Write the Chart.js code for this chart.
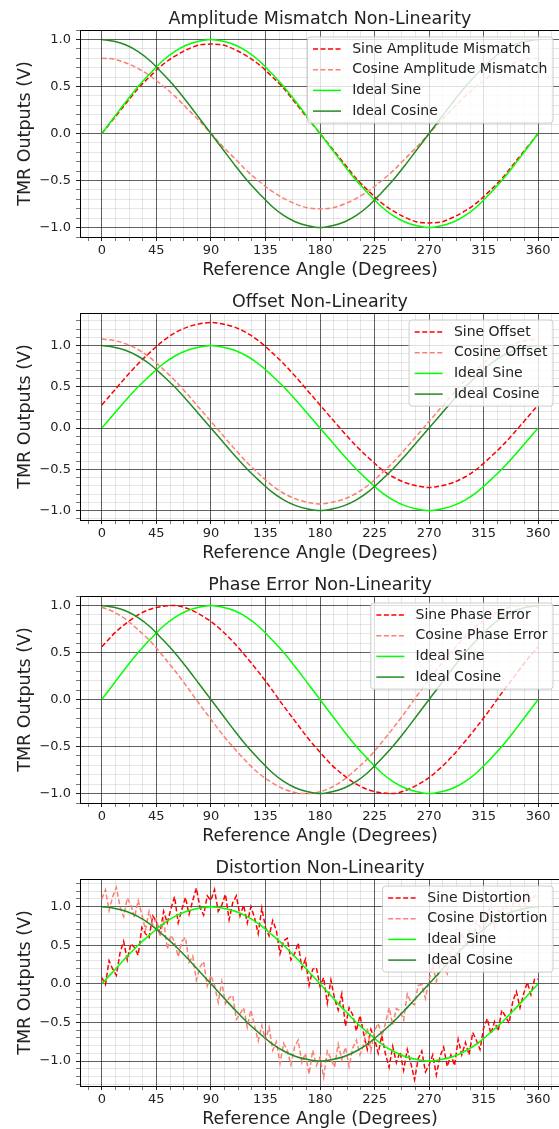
<!DOCTYPE html>
<html>
<head>
<meta charset="utf-8">
<script src="https://cdn.jsdelivr.net/npm/chart.js@4.4.1/dist/chart.umd.min.js"></script>
<style>
html, body { margin: 0; padding: 0; background: #fff; overflow: hidden; width: 559px; height: 1129px; }
.plot { position: absolute; left: 0; }
</style>
</head>
<body>
<canvas id="amp" class="plot" style="top:0px" width="600" height="283"></canvas>
<canvas id="off" class="plot" style="top:283px" width="600" height="283"></canvas>
<canvas id="phase" class="plot" style="top:566px" width="600" height="283"></canvas>
<canvas id="dist" class="plot" style="top:849px" width="600" height="283"></canvas>
<script>
// DATA
const angles = [0,10,20,30,40,50,60,70,80,90,100,110,120,130,140,150,160,170,180,190,200,210,220,230,240,250,260,270,280,290,300,310,320,330,340,350,360];
const angles3 = [0,3,6,9,12,15,18,21,24,27,30,33,36,39,42,45,48,51,54,57,60,63,66,69,72,75,78,81,84,87,90,93,96,99,102,105,108,111,114,117,120,123,126,129,132,135,138,141,144,147,150,153,156,159,162,165,168,171,174,177,180,183,186,189,192,195,198,201,204,207,210,213,216,219,222,225,228,231,234,237,240,243,246,249,252,255,258,261,264,267,270,273,276,279,282,285,288,291,294,297,300,303,306,309,312,315,318,321,324,327,330,333,336,339,342,345,348,351,354,357,360];
const xTickLabels = [0,45,90,135,180,225,270,315,360];
const yTickLabels = [-1.0,-0.5,0.0,0.5,1.0];

const idealSin = [0.00,0.17,0.34,0.50,0.64,0.77,0.87,0.94,0.98,1.00,0.98,0.94,0.87,0.77,0.64,0.50,0.34,0.17,0.00,-0.17,-0.34,-0.50,-0.64,-0.77,-0.87,-0.94,-0.98,-1.00,-0.98,-0.94,-0.87,-0.77,-0.64,-0.50,-0.34,-0.17,0.00];
const idealCos = [1.00,0.98,0.94,0.87,0.77,0.64,0.50,0.34,0.17,0.00,-0.17,-0.34,-0.50,-0.64,-0.77,-0.87,-0.94,-0.98,-1.00,-0.98,-0.94,-0.87,-0.77,-0.64,-0.50,-0.34,-0.17,0.00,0.17,0.34,0.50,0.64,0.77,0.87,0.94,0.98,1.00];

const ampSin = [0.00,0.16,0.32,0.48,0.61,0.73,0.82,0.89,0.94,0.95,0.94,0.89,0.82,0.73,0.61,0.48,0.32,0.16,0.00,-0.16,-0.32,-0.48,-0.61,-0.73,-0.82,-0.89,-0.94,-0.95,-0.94,-0.89,-0.82,-0.73,-0.61,-0.48,-0.32,-0.16,0.00];
const ampCos = [0.80,0.79,0.75,0.69,0.61,0.51,0.40,0.27,0.14,0.00,-0.14,-0.27,-0.40,-0.51,-0.61,-0.69,-0.75,-0.79,-0.80,-0.79,-0.75,-0.69,-0.61,-0.51,-0.40,-0.27,-0.14,0.00,0.14,0.27,0.40,0.51,0.61,0.69,0.75,0.79,0.80];

const offSin = [0.28,0.45,0.62,0.78,0.92,1.05,1.15,1.22,1.26,1.28,1.26,1.22,1.15,1.05,0.92,0.78,0.62,0.45,0.28,0.11,-0.06,-0.22,-0.36,-0.49,-0.59,-0.66,-0.70,-0.72,-0.70,-0.66,-0.59,-0.49,-0.36,-0.22,-0.06,0.11,0.28];
const offCos = [1.08,1.06,1.02,0.95,0.85,0.72,0.58,0.42,0.25,0.08,-0.09,-0.26,-0.42,-0.56,-0.69,-0.79,-0.86,-0.90,-0.92,-0.90,-0.86,-0.79,-0.69,-0.56,-0.42,-0.26,-0.09,0.08,0.25,0.42,0.58,0.72,0.85,0.95,1.02,1.06,1.08];

const phaseSin = [0.56,0.70,0.81,0.90,0.96,0.99,1.00,0.97,0.91,0.83,0.72,0.59,0.44,0.28,0.11,-0.07,-0.24,-0.41,-0.56,-0.70,-0.81,-0.90,-0.96,-0.99,-1.00,-0.97,-0.91,-0.83,-0.72,-0.59,-0.44,-0.28,-0.11,0.07,0.24,0.41,0.56];
const phaseCos = [0.98,0.93,0.85,0.74,0.62,0.47,0.31,0.14,-0.04,-0.21,-0.38,-0.53,-0.67,-0.79,-0.88,-0.95,-0.99,-1.00,-0.98,-0.93,-0.85,-0.74,-0.62,-0.47,-0.31,-0.14,0.04,0.21,0.38,0.53,0.67,0.79,0.88,0.95,0.99,1.00,0.98];

const distSin = [0.08,-0.01,0.30,0.19,0.11,0.40,0.55,0.31,0.52,0.47,
  0.37,0.73,0.65,0.60,0.88,0.81,0.66,0.94,0.79,0.97,
  1.13,0.79,0.96,1.12,0.90,1.08,1.24,0.99,0.89,1.14,
  1.08,1.22,0.94,1.02,1.16,0.83,1.05,1.14,0.88,1.02,
  0.79,1.00,0.86,0.65,0.98,0.73,0.62,0.82,0.69,0.39,
  0.56,0.59,0.31,0.39,0.53,0.20,0.32,-0.02,0.19,0.21,
  -0.03,0.08,-0.25,0.05,-0.19,-0.34,-0.13,-0.55,-0.31,-0.40,
  -0.61,-0.41,-0.64,-0.85,-0.59,-0.71,-0.90,-0.67,-0.91,-1.08,
  -0.81,-1.02,-0.88,-1.12,-0.85,-1.03,-1.24,-0.97,-0.87,-1.14,
  -1.05,-0.92,-1.18,-0.94,-0.82,-1.07,-0.92,-1.06,-0.72,-0.92,
  -0.76,-0.92,-0.63,-0.73,-0.85,-0.57,-0.45,-0.65,-0.49,-0.61,
  -0.34,-0.42,-0.51,-0.23,-0.10,-0.31,-0.13,0.02,-0.14,0.06,
  0.06];
const distCos = [1.10,1.22,0.95,1.13,1.25,1.00,0.87,1.11,1.02,0.86,
  1.08,0.90,0.70,0.94,0.76,0.84,0.61,0.82,0.45,0.63,
  0.55,0.35,0.55,0.60,0.28,0.36,0.05,0.22,0.29,-0.03,
  0.11,-0.02,-0.24,0.03,-0.26,-0.18,-0.15,-0.46,-0.39,-0.31,
  -0.56,-0.34,-0.54,-0.74,-0.54,-0.73,-0.56,-0.86,-0.75,-1.03,
  -0.77,-0.86,-1.05,-0.82,-0.73,-1.02,-0.90,-1.17,-0.86,-1.06,
  -0.95,-1.21,-0.87,-0.97,-1.08,-0.78,-0.98,-0.82,-1.07,-0.83,
  -0.73,-0.92,-0.78,-0.57,-0.87,-0.61,-0.51,-0.68,-0.51,-0.31,
  -0.53,-0.32,-0.35,-0.47,-0.13,-0.24,-0.27,-0.02,-0.01,-0.19,
  0.05,0.24,0.03,0.27,0.24,0.13,0.47,0.44,0.36,0.67,
  0.52,0.68,0.49,0.81,0.73,0.68,0.88,1.04,0.75,0.95,
  0.92,1.08,0.83,1.03,1.11,1.00,0.87,1.20,1.08,1.14,
  1.13];

// STYLE
const FONT = "'DejaVu Sans', sans-serif";
const TXT = '#222';
const GRID_MAJOR = 'rgba(0,0,0,0.62)';
const GRID_MINOR = 'rgba(0,0,0,0.1)';
const RED = '#ff0000', SALMON = '#fa8072', LIME = '#00ff00', GREEN = '#228b22';
const DASH = [5, 2.5];

function isMajor(v, majors) {
  return majors.some(m => Math.abs(m - v) < 1e-6);
}

// minor ticks between (and around) the labelled ones
function withMinors(majors, step, lo, hi) {
  const out = [];
  const first = majors[0];
  let k = Math.ceil((lo - first) / step - 1e-6);
  while (first + k * step <= hi + 1e-6) {
    out.push(+(first + k * step).toFixed(4));
    k++;
  }
  return out;
}

function fmtY(v) {
  return (v < 0 ? '\u2212' : '') + Math.abs(v).toFixed(1);
}

// frame round the axes (top & right spines too)
const frame = {
  id: 'frame',
  afterDatasetsDraw(chart) {
    const a = chart.chartArea, ctx = chart.ctx;
    ctx.save();
    ctx.strokeStyle = '#000';
    ctx.lineWidth = 1;
    ctx.strokeRect(Math.round(a.left) + 0.5, Math.round(a.top) + 0.5, Math.round(a.right - a.left), Math.round(a.bottom - a.top));
    ctx.restore();
  }
};

// matplotlib style legend box, upper right inside the axes
const boxLegend = {
  id: 'boxLegend',
  afterDraw(chart) {
    const ctx = chart.ctx, a = chart.chartArea;
    const sets = chart.data.datasets;
    ctx.save();
    ctx.font = '14px ' + FONT;
    const tw = Math.max(...sets.map(d => ctx.measureText(d.label).width));
    const pad = 5.6, handle = 28, gap = 11.2, row = 20.7;
    const w = pad * 2 + handle + gap + tw;
    const h = 24 + row * (sets.length - 1);
    const right = a.right - 7, top = a.top + 7, left = right - w;
    const r = 3;
    ctx.beginPath();
    ctx.moveTo(left + r, top);
    ctx.lineTo(right - r, top);
    ctx.arcTo(right, top, right, top + r, r);
    ctx.lineTo(right, top + h - r);
    ctx.arcTo(right, top + h, right - r, top + h, r);
    ctx.lineTo(left + r, top + h);
    ctx.arcTo(left, top + h, left, top + h - r, r);
    ctx.lineTo(left, top + r);
    ctx.arcTo(left, top, left + r, top, r);
    ctx.closePath();
    ctx.fillStyle = 'rgba(255,255,255,0.8)';
    ctx.fill();
    ctx.strokeStyle = '#cccccc';
    ctx.lineWidth = 1;
    ctx.stroke();
    sets.forEach((d, i) => {
      const y = top + 12 + i * row;
      ctx.beginPath();
      ctx.setLineDash(d.borderDash || []);
      ctx.strokeStyle = d.borderColor;
      ctx.lineWidth = d.borderWidth;
      ctx.moveTo(left + pad, y);
      ctx.lineTo(left + pad + handle, y);
      ctx.stroke();
      ctx.setLineDash([]);
      ctx.fillStyle = TXT;
      ctx.textAlign = 'left';
      ctx.textBaseline = 'middle';
      ctx.fillText(d.label, left + pad + handle + gap, y);
    });
    ctx.restore();
  }
};

function line(label, xs, ys, color, dashed, smooth, order) {
  return {
    label: label,
    data: xs.map((x, i) => ({x: x, y: ys[i]})),
    borderColor: color,
    backgroundColor: color,
    borderDash: dashed ? DASH : [],
    borderWidth: 1.5,
    pointRadius: 0,
    fill: false,
    tension: 0,
    cubicInterpolationMode: smooth ? 'monotone' : 'default',
    order: order
  };
}

function makePlot(id, title, datasets, yMin, yMax) {
  const xAll = withMinors(xTickLabels, 11.25, -18, 378);
  const yAll = withMinors(yTickLabels, 0.1, yMin, yMax);
  new Chart(document.getElementById(id).getContext('2d'), {
    type: 'line',
    data: { datasets: datasets },
    options: {
      responsive: false,
      animation: false,
      devicePixelRatio: 1,
      layout: { padding: { left: 0, right: 40, top: 0, bottom: 0 } },
      scales: {
        x: {
          type: 'linear',
          min: -18,
          max: 378,
          afterBuildTicks: s => { s.ticks = xAll.map(v => ({value: v})); },
          afterFit: s => { s.height = 46; },
          border: { display: false },
          grid: {
            color: c => isMajor(c.tick.value, xTickLabels) ? GRID_MAJOR : GRID_MINOR,
            tickColor: c => isMajor(c.tick.value, xTickLabels) ? '#222' : '#777',
            tickLength: 4,
            lineWidth: 1
          },
          ticks: {
            autoSkip: false,
            maxRotation: 0,
            padding: 2,
            color: TXT,
            font: { family: FONT, size: 13 },
            callback: v => isMajor(v, xTickLabels) ? String(Math.round(v)) : ''
          },
          title: {
            display: true,
            text: 'Reference Angle (Degrees)',
            color: TXT,
            font: { family: FONT, size: 17.5 },
            padding: { top: 0, bottom: 2.5 }
          }
        },
        y: {
          min: yMin,
          max: yMax,
          afterBuildTicks: s => { s.ticks = yAll.map(v => ({value: v})); },
          afterFit: s => { s.width = 80; },
          border: { display: false },
          grid: {
            color: c => isMajor(c.tick.value, yTickLabels) ? GRID_MAJOR : GRID_MINOR,
            tickColor: c => isMajor(c.tick.value, yTickLabels) ? '#222' : '#777',
            tickLength: 4,
            lineWidth: 1
          },
          ticks: {
            autoSkip: false,
            padding: 5,
            color: TXT,
            font: { family: FONT, size: 13 },
            callback: v => isMajor(v, yTickLabels) ? fmtY(v) : ''
          },
          title: {
            display: true,
            text: 'TMR Outputs (V)',
            color: TXT,
            font: { family: FONT, size: 17.5 },
            padding: { top: 15, bottom: 0 }
          }
        }
      },
      plugins: {
        legend: { display: false },
        tooltip: { enabled: false },
        title: {
          display: true,
          text: title,
          fullSize: false,
          color: TXT,
          font: { family: FONT, size: 17.5, weight: 'normal' },
          padding: { top: 9, bottom: 0 }
        }
      }
    },
    plugins: [frame, boxLegend]
  });
}

makePlot('amp', 'Amplitude Mismatch Non-Linearity', [
  line('Sine Amplitude Mismatch', angles, ampSin, RED, true, true, 4),
  line('Cosine Amplitude Mismatch', angles, ampCos, SALMON, true, true, 3),
  line('Ideal Sine', angles, idealSin, LIME, false, true, 2),
  line('Ideal Cosine', angles, idealCos, GREEN, false, true, 1)
], -1.1, 1.1);

makePlot('off', 'Offset Non-Linearity', [
  line('Sine Offset', angles, offSin, RED, true, true, 4),
  line('Cosine Offset', angles, offCos, SALMON, true, true, 3),
  line('Ideal Sine', angles, idealSin, LIME, false, true, 2),
  line('Ideal Cosine', angles, idealCos, GREEN, false, true, 1)
], -1.114, 1.394);

makePlot('phase', 'Phase Error Non-Linearity', [
  line('Sine Phase Error', angles, phaseSin, RED, true, true, 4),
  line('Cosine Phase Error', angles, phaseCos, SALMON, true, true, 3),
  line('Ideal Sine', angles, idealSin, LIME, false, true, 2),
  line('Ideal Cosine', angles, idealCos, GREEN, false, true, 1)
], -1.1, 1.1);

makePlot('dist', 'Distortion Non-Linearity', [
  line('Sine Distortion', angles3, distSin, RED, true, false, 4),
  line('Cosine Distortion', angles3, distCos, SALMON, true, false, 3),
  line('Ideal Sine', angles, idealSin, LIME, false, true, 2),
  line('Ideal Cosine', angles, idealCos, GREEN, false, true, 1)
], -1.323, 1.358);
</script>
</body>
</html>
